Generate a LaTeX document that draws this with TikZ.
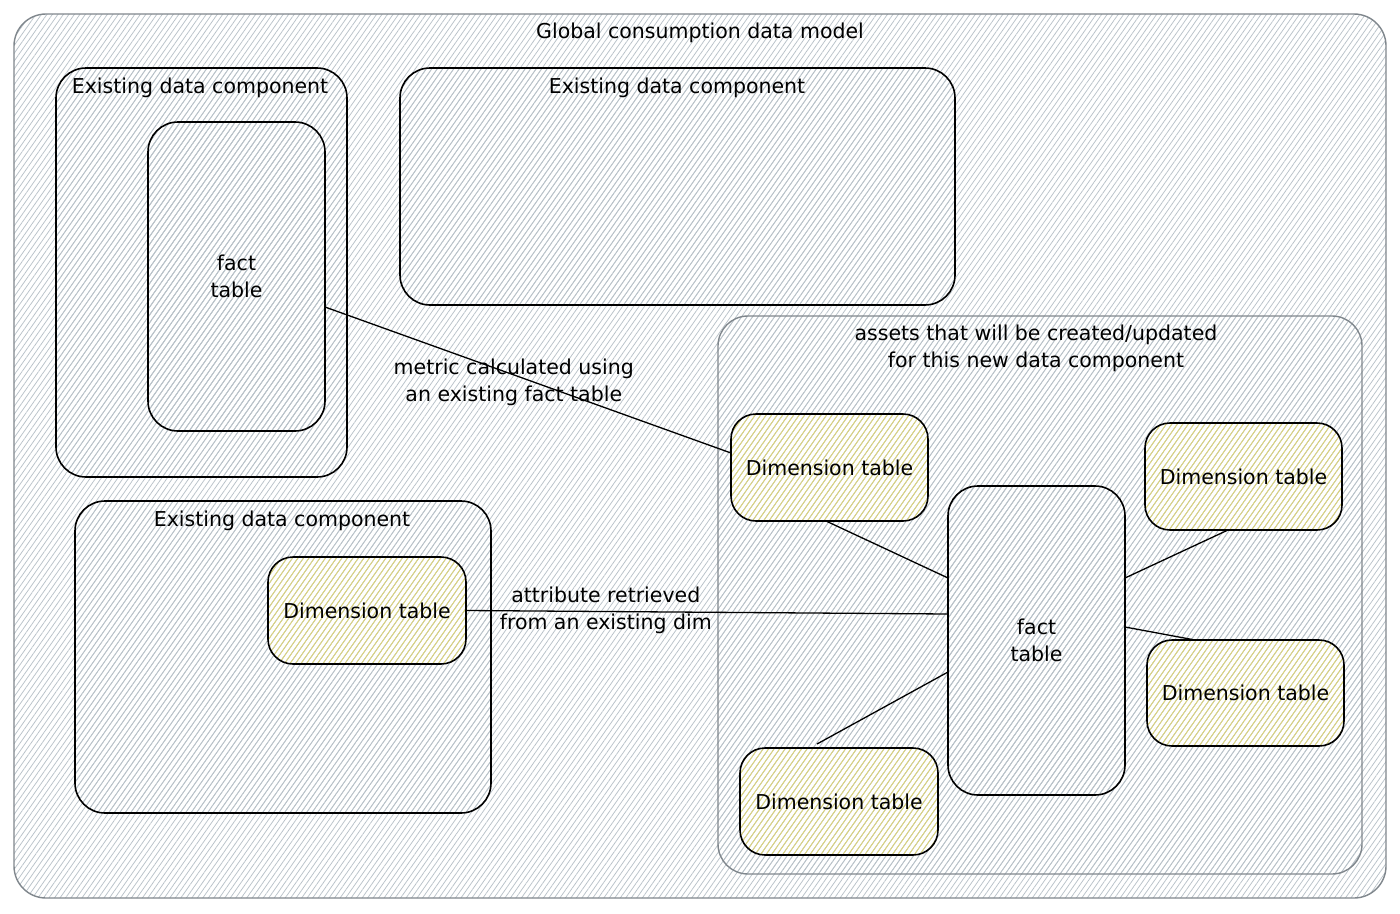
\documentclass[tikz,border=0pt]{standalone}
\usepackage{fontspec}
\setmainfont{DejaVu Sans}
\usetikzlibrary{patterns.meta}
\definecolor{hatchgray}{HTML}{B9C2C9}
\definecolor{hatchyellow}{HTML}{E3D870}
\definecolor{bordergray}{HTML}{80878D}
\tikzset{
  hatch/.style={pattern={Lines[angle=55,distance=4.5pt,line width=0.75pt]}, pattern color=#1},
  box/.style={rounded corners=30pt, line width=1.6pt, draw=black, hatch=hatchgray, inner sep=0pt, outer sep=0pt},
  graybox/.style={box, draw=bordergray, line width=1.4pt},
  facttable/.style={box, align=center, minimum width=177pt, minimum height=309pt},
  dimtable/.style={box, rounded corners=25pt, hatch=hatchyellow, minimum width=197pt, minimum height=107pt},
  title/.style={inner sep=0pt, align=center},
  link/.style={line width=1.3pt, draw=black},
  linklabel/.style={inner sep=0pt, align=center}
}
\begin{document}
\begin{tikzpicture}[x=1pt,y=-1pt,font=\fontsize{20.5}{27}\selectfont]
\useasboundingbox (0,0) rectangle (1400,913);
\fill[white] (0,0) rectangle (1400,913);
% outer
\node[graybox, rounded corners=32pt, minimum width=1372pt, minimum height=884pt] (outer) at (700,456) {};
\node[title] (outertitle) at (700,33) {Global consumption data model};
% box A
\node[box, minimum width=291pt, minimum height=409pt] (boxA) at (201.5,272.5) {};
\node[title] (titleA) at (200,88) {Existing data component};
\node[facttable] (factA) at (236.5,276.5) {fact\\table};
% box B
\node[box, minimum width=555pt, minimum height=237pt] (boxB) at (677.5,186.5) {};
\node[title] (titleB) at (677,88) {Existing data component};
% box C
\node[box, minimum width=416pt, minimum height=312pt] (boxC) at (283,657) {};
\node[title] (titleC) at (282,521) {Existing data component};
\node[dimtable, minimum width=198pt] (dimC) at (367,610.5) {Dimension table};
% box D
\node[graybox, minimum width=644pt, minimum height=558pt] (boxD) at (1040,595) {};
\node[title] (titleD) at (1036,348.5) {assets that will be created/updated\\for this new data component};
\node[dimtable] (dim1) at (829.5,467.5) {Dimension table};
\node[dimtable] (dim2) at (1243.5,476.5) {Dimension table};
\node[dimtable, minimum height=106pt] (dim3) at (1245.5,693) {Dimension table};
\node[dimtable, minimum width=198pt] (dim4) at (839,801.5) {Dimension table};
\node[facttable] (fact) at (1036.5,640.5) {fact\\table};
% connectors
\draw[link] ([yshift=-30.5pt]factA.east) -- ([yshift=14.5pt]dim1.west)
  node[linklabel, pos=0.465, yshift=-7pt] (lab1) {metric calculated using\\an existing fact table};
\draw[link] (dimC.east) -- ([yshift=26.5pt]fact.west)
  node[linklabel, pos=0.29, yshift=1pt] (lab2) {attribute retrieved\\from an existing dim};
\draw[link] ([xshift=-3.5pt]dim1.south) -- ([yshift=62.5pt]fact.west);
\draw[link] ([xshift=-15.5pt]dim2.south) -- ([yshift=62.5pt]fact.east);
\draw[link] ([yshift=13.5pt]fact.east) -- ([xshift=-50.5pt]dim3.north);
\draw[link] ([xshift=-22pt,yshift=4pt]dim4.north) -- ([yshift=-31.5pt]fact.west);
\end{tikzpicture}
\end{document}
